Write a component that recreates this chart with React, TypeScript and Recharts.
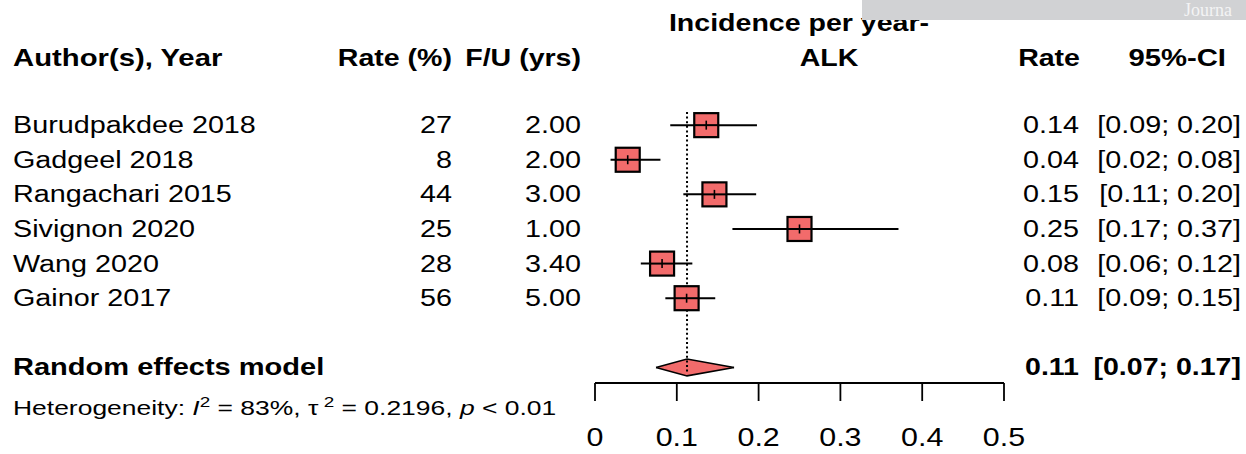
import React from "react";
import { ComposedChart, XAxis, YAxis, Scatter, Line, Area } from "recharts";

// ---- data ----
const studyNames = ["Burudpakdee 2018", "Gadgeel 2018", "Rangachari 2015", "Sivignon 2020", "Wang 2020", "Gainor 2017"];
const ratePct = ["27", "8", "44", "25", "28", "56"];
const followUp = ["2.00", "2.00", "3.00", "1.00", "3.40", "5.00"];
const estimates = [0.136, 0.04, 0.146, 0.25, 0.082, 0.112];
const ciLower = [0.092, 0.019, 0.108, 0.168, 0.056, 0.086];
const ciUpper = [0.198, 0.08, 0.197, 0.371, 0.119, 0.147];
const rateLabels = ["0.14", "0.04", "0.15", "0.25", "0.08", "0.11"];
const ciLabels = ["[0.09; 0.20]", "[0.02; 0.08]", "[0.11; 0.20]", "[0.17; 0.37]", "[0.06; 0.12]", "[0.09; 0.15]"];
const studyRows = [2, 3, 4, 5, 6, 7];

const pooledName = "Random effects model";
const pooledEst = 0.1125;
const pooledLower = 0.0746;
const pooledUpper = 0.17;
const pooledRow = 9;
const pooledRateLabel = "0.11";
const pooledCiLabel = "[0.07; 0.17]";
const diamondHalf = 0.245;
const refLineSpan = [1.62, 9.2];

const xTicks = [0, 0.1, 0.2, 0.3, 0.4, 0.5];
const xTickLabels = ["0", "0.1", "0.2", "0.3", "0.4", "0.5"];

const headerLabels = ["Author(s), Year", "Rate (%)", "F/U (yrs)", "Incidence per year-", "ALK", "Rate", "95%-CI"];

// ---- derived tables ----
const rows = studyNames.map((name, i) => ({
  x: estimates[i],
  y: studyRows[i],
  name,
  pct: ratePct[i],
  fu: followUp[i],
  rate: rateLabels[i],
  ci: ciLabels[i],
}));
const pooledRows = [{ x: pooledEst, y: pooledRow, name: pooledName, rate: pooledRateLabel, ci: pooledCiLabel }];
const diamondData = [
  { x: pooledLower, y: [pooledRow, pooledRow] },
  { x: pooledEst, y: [pooledRow - diamondHalf, pooledRow + diamondHalf] },
  { x: pooledUpper, y: [pooledRow, pooledRow] },
];
const refLineData = [
  { x: pooledEst, y: refLineSpan[0] },
  { x: pooledEst, y: refLineSpan[1] },
];

const FONT = "'Liberation Sans', Arial, Helvetica, sans-serif";
const RED = "#F26B6B";

const T = ({ x, y, anchor = "start", size = 23, bold = false, sx = 1.25, children, fill = "#000", family = FONT }: any) => (
  <text
    transform={`translate(${x} ${y}) scale(${sx} 1)`}
    textAnchor={anchor}
    fontSize={size}
    fontWeight={bold ? "bold" : "normal"}
    fontFamily={family}
    fill={fill}
  >
    {children}
  </text>
);

const SquareShape = (props: any) => {
  const { cx, cy } = props;
  const h = 12;
  return (
    <g>
      <rect x={cx - h} y={cy - h} width={2 * h} height={2 * h} fill={RED} stroke="#000" strokeWidth={2.2} />
      <line x1={cx - h} x2={cx + h} y1={cy} y2={cy} stroke="#000" strokeWidth={2} />
      <line x1={cx} x2={cx} y1={cy - 4.5} y2={cy + 4.5} stroke="#000" strokeWidth={1.6} />
    </g>
  );
};

const RowText = (props: any) => {
  const { cy, payload } = props;
  const b = cy + 8;
  return (
    <g>
      <T x={13} y={b}>{payload.name}</T>
      <T x={452} y={b} anchor="end">{payload.pct}</T>
      <T x={581} y={b} anchor="end">{payload.fu}</T>
      <T x={1079} y={b} anchor="end">{payload.rate}</T>
      <T x={1241} y={b} anchor="end">{payload.ci}</T>
    </g>
  );
};

const PooledText = (props: any) => {
  const { cy, payload } = props;
  const b = cy + 8;
  return (
    <g>
      <T x={13} y={b} bold size={24} sx={1.21}>{payload.name}</T>
      <T x={1079} y={b} anchor="end" bold size={24} sx={1.19}>{payload.rate}</T>
      <T x={1241} y={b} anchor="end" bold size={24} sx={1.19}>{payload.ci}</T>
      <text transform={`translate(13 ${b + 40}) scale(1.26 1)`} fontSize={21} fontFamily={FONT} fill="#000">
        Heterogeneity: <tspan fontStyle="italic">I</tspan>
        <tspan fontSize={15} dy={-8}>2</tspan>
        <tspan dy={8}> = 83%, τ</tspan>
        <tspan fontSize={15} dy={-8}> 2</tspan>
        <tspan dy={8}> = 0.2196, </tspan>
        <tspan fontStyle="italic">p</tspan>
        <tspan> &lt; 0.01</tspan>
      </text>
    </g>
  );
};

const AxisTick = (props: any) => {
  const { x, y, index } = props;
  return (
    <T x={x} y={y + 43} anchor="middle" size={26} sx={1.17}>
      {xTickLabels[index]}
    </T>
  );
};

export default function App() {
  return (
    <div style={{ position: "absolute", left: 0, top: 0, width: 1246, height: 454, background: "#fff" }}>
      <ComposedChart width={1246} height={454} margin={{ top: 4, right: 242, bottom: 0, left: 595 }}>
        <XAxis
          type="number"
          dataKey="x"
          domain={[0, 0.5]}
          ticks={xTicks}
          tickSize={18}
          height={71}
          axisLine={{ stroke: "#000", strokeWidth: 1.8 }}
          tickLine={{ stroke: "#000", strokeWidth: 1.8 }}
          tick={<AxisTick />}
          interval={0}
        />
        <YAxis type="number" dataKey="y" domain={[-1.5, 9.45]} reversed hide />
        <Scatter data={rows} shape={<RowText />} isAnimationActive={false} />
        <Scatter data={pooledRows} shape={<PooledText />} isAnimationActive={false} />
        <Scatter data={rows} shape={<SquareShape />} isAnimationActive={false} />
        {rows.map((r, i) => (
          <Line
            key={i}
            data={[
              { x: ciLower[i], y: r.y },
              { x: ciUpper[i], y: r.y },
            ]}
            dataKey="y"
            type="linear"
            stroke="#000"
            strokeWidth={2}
            dot={false}
            activeDot={false}
            isAnimationActive={false}
          />
        ))}
        <Area
          data={diamondData}
          dataKey="y"
          type="linear"
          stroke="#000"
          strokeWidth={1.6}
          fill={RED}
          fillOpacity={1}
          dot={false}
          activeDot={false}
          isAnimationActive={false}
        />
        <Line
          data={refLineData}
          dataKey="y"
          type="linear"
          stroke="#000"
          strokeWidth={2}
          strokeDasharray="2 2.6"
          dot={false}
          activeDot={false}
          isAnimationActive={false}
        />
        <g>
          <T x={13} y={66} bold size={24} sx={1.22}>{headerLabels[0]}</T>
          <T x={452} y={66} anchor="end" bold size={24} sx={1.19}>{headerLabels[1]}</T>
          <T x={581} y={66} anchor="end" bold size={24} sx={1.19}>{headerLabels[2]}</T>
          <T x={799} y={31} anchor="middle" bold size={24} sx={1.19}>{headerLabels[3]}</T>
          <T x={829} y={66} anchor="middle" bold size={24} sx={1.19}>{headerLabels[4]}</T>
          <T x={1080} y={66} anchor="end" bold size={24} sx={1.19}>{headerLabels[5]}</T>
          <T x={1226} y={66} anchor="end" bold size={24} sx={1.22}>{headerLabels[6]}</T>
          <rect x={862} y={0} width={384} height={20} fill="#D1D2D4" />
          <T x={1184} y={16} size={18} sx={1} fill="#F4F4F4" family="'Liberation Serif', 'Times New Roman', serif">Journa</T>
        </g>
      </ComposedChart>
    </div>
  );
}
